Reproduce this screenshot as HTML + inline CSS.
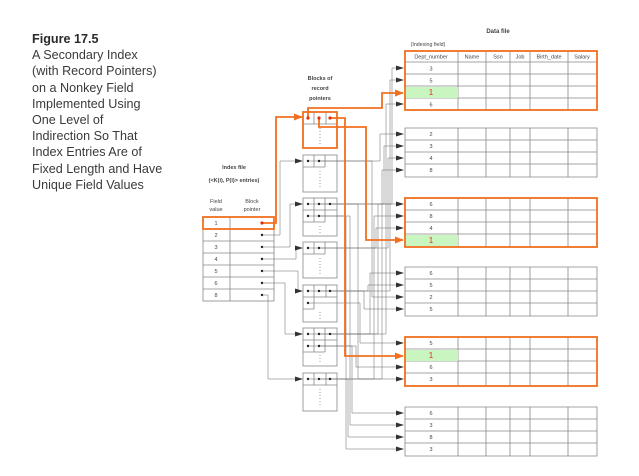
<!DOCTYPE html>
<html><head><meta charset="utf-8"><style>
html,body{margin:0;padding:0;background:#fff;}
body{width:639px;height:476px;overflow:hidden;position:relative;font-family:"Liberation Sans",sans-serif;}
.cap{position:absolute;left:32px;top:31px;font-size:12.6px;line-height:16.2px;color:#3a3a3a;}
.cap b{color:#2a2a2a;}
svg{position:absolute;left:0;top:0;}
</style></head><body>
<div class="cap"><b>Figure 17.5</b><br>A Secondary Index<br>(with Record Pointers)<br>on a Nonkey Field<br>Implemented Using<br>One Level of<br>Indirection So That<br>Index Entries Are of<br>Fixed Length and Have<br>Unique Field Values</div>
<svg width="639" height="476" viewBox="0 0 639 476" font-family="Liberation Sans, sans-serif">
<defs>
<marker id="a" markerWidth="8" markerHeight="5" refX="7" refY="2.5" orient="auto" markerUnits="userSpaceOnUse"><path d="M0,0 L8,2.5 L0,5z" fill="#333"/></marker>
<marker id="o" markerWidth="9" markerHeight="7" refX="8" refY="3.5" orient="auto" markerUnits="userSpaceOnUse"><path d="M0,0 L9,3.5 L0,7z" fill="#f07020"/></marker>
</defs>
<g font-size="5.5" fill="#444" text-anchor="middle">
<text x="498" y="33" font-weight="bold" font-size="6">Data file</text>
<text x="428" y="46" font-size="5.3">(Indexing field)</text>
<text x="320" y="80" font-weight="bold">Blocks of</text>
<text x="320" y="90" font-weight="bold">record</text>
<text x="320" y="100" font-weight="bold">pointers</text>
<text x="234" y="169" font-weight="bold">Index file</text>
<text x="234" y="182" font-weight="bold">(&lt;K(i), P(i)&gt; entries)</text>
<text x="216" y="203">Field</text><text x="216" y="211">value</text>
<text x="252" y="203">Block</text><text x="252" y="211">pointer</text>
</g>
<g stroke="#888" stroke-width="0.8" fill="none">
<rect x="405" y="51" width="192" height="59"/>
<line x1="405" y1="62" x2="597" y2="62"/><line x1="405" y1="74" x2="597" y2="74"/><line x1="405" y1="86" x2="597" y2="86"/><line x1="405" y1="98" x2="597" y2="98"/>
<path d="M458 51V110M486 51V110M510 51V110M530 51V110M568 51V110"/>
</g>
<rect x="406" y="87" width="52" height="11" fill="#c8f5c0"/>
<g font-size="5.5" fill="#444" text-anchor="middle">
<text x="431" y="58.5">Dept_number</text><text x="472" y="58.5">Name</text><text x="498" y="58.5">Ssn</text><text x="520" y="58.5">Job</text><text x="549" y="58.5">Birth_date</text><text x="582" y="58.5">Salary</text>
<text x="431" y="70.5">3</text><text x="431" y="82.5">5</text><text x="431" y="95" font-size="8" fill="#e03010">1</text><text x="431" y="106.5">6</text>
</g>
<g stroke="#888" stroke-width="0.8" fill="none">
<path d="M405 128h192v49h-192zM405 140h192M405 152h192M405 164h192M458 128v49M486 128v49M510 128v49M530 128v49M568 128v49"/>
<path d="M405 198h192v49h-192zM405 210h192M405 222h192M405 234h192M458 198v49M486 198v49M510 198v49M530 198v49M568 198v49"/>
<path d="M405 267h192v49h-192zM405 279h192M405 291h192M405 303h192M458 267v49M486 267v49M510 267v49M530 267v49M568 267v49"/>
<path d="M405 337h192v49h-192zM405 349h192M405 361h192M405 373h192M458 337v49M486 337v49M510 337v49M530 337v49M568 337v49"/>
<path d="M405 407h192v49h-192zM405 419h192M405 431h192M405 443h192M458 407v49M486 407v49M510 407v49M530 407v49M568 407v49"/>
</g>
<rect x="406" y="235" width="52" height="11" fill="#c8f5c0"/>
<rect x="406" y="350" width="52" height="11" fill="#c8f5c0"/>
<g font-size="5.5" fill="#444" text-anchor="middle">
<text x="431" y="136">2</text><text x="431" y="148">3</text><text x="431" y="160">4</text><text x="431" y="172">8</text>
<text x="431" y="206">6</text><text x="431" y="218">8</text><text x="431" y="230">4</text><text x="431" y="243" font-size="8" fill="#e03010">1</text>
<text x="431" y="275">6</text><text x="431" y="287">5</text><text x="431" y="299">2</text><text x="431" y="311">5</text>
<text x="431" y="345">5</text><text x="431" y="358" font-size="8" fill="#e03010">1</text><text x="431" y="369">6</text><text x="431" y="381">3</text>
<text x="431" y="415">6</text><text x="431" y="427">3</text><text x="431" y="439">8</text><text x="431" y="451">3</text>
</g>
<g fill="none" stroke="#f07020" stroke-width="1.8">
<rect x="405" y="51" width="192" height="59"/>
<rect x="405" y="198" width="192" height="49"/>
<rect x="405" y="337" width="192" height="49"/>
</g>
<g stroke="#888" stroke-width="0.8" fill="none">
<rect x="203" y="217" width="71" height="84"/>
<path d="M230 217V301M203 229h71M203 241h71M203 253h71M203 265h71M203 277h71M203 289h71"/>
</g>
<g font-size="5.5" fill="#444" text-anchor="middle">
<text x="216" y="225">1</text><text x="216" y="237">2</text><text x="216" y="249">3</text><text x="216" y="261">4</text><text x="216" y="273">5</text><text x="216" y="285">6</text><text x="216" y="297">8</text>
</g>
<g stroke="#888" stroke-width="0.8" fill="none">
<rect x="303" y="112" width="34" height="36"/><path d="M303 124h34M314 112v12M326 112v12"/>
<rect x="303" y="155" width="34" height="37"/><path d="M303 167h22M314 155v12M325 155v12"/>
<rect x="303" y="198" width="34" height="38"/><path d="M303 210h34M303 222h22M314 198v24M325 198v24"/>
<rect x="303" y="242" width="34" height="36"/><path d="M303 254h22M314 242v12M325 242v12"/>
<rect x="303" y="285" width="34" height="37"/><path d="M303 297h34M303 309h11M314 285v24M326 285v12"/>
<rect x="303" y="328" width="34" height="38"/><path d="M303 340h34M303 352h22M314 328v24M325 328v24"/>
<rect x="303" y="373" width="34" height="38"/><path d="M303 385h34M314 373v12M326 373v12"/>
<path stroke-dasharray="1,2" d="M320 128v16M320 171v16M320 226v8M320 258v16M320 312v8M320 355v8M320 389v16"/>
</g>
<rect x="303" y="112" width="34" height="36" fill="none" stroke="#f07020" stroke-width="1.8"/>
<rect x="203" y="217" width="71" height="12" fill="none" stroke="#f07020" stroke-width="1.8"/>
<g stroke="#666" stroke-width="0.5" fill="none" marker-end="url(#a)">
<path d="M262 235H280V161H302"/>
<path d="M262 247H290V204H302"/>
<path d="M262 259H296V248H302"/>
<path d="M262 271H298V291H302"/>
<path d="M262 283H285V334H302"/>
<path d="M262 295H268V379H302"/>
<path d="M308 161H380V134H403"/>
<path d="M319 161H372V297H403"/>
<path d="M308 204H392V68H403"/>
<path d="M319 204H384V146H403"/>
<path d="M330 204H358V379H403"/>
<path d="M308 216H350V425H403"/>
<path d="M319 216H346V449H403"/>
<path d="M308 248H388V158H403"/>
<path d="M319 248H376V228H403"/>
<path d="M308 291H390V80H403"/>
<path d="M319 291H368V285H403"/>
<path d="M330 291H364V309H403"/>
<path d="M308 303H360V343H403"/>
<path d="M308 334H386V104H403"/>
<path d="M319 334H378V204H403"/>
<path d="M330 334H370V273H403"/>
<path d="M308 346H356V367H403"/>
<path d="M319 346H352V413H403"/>
<path d="M308 379H382V170H403"/>
<path d="M319 379H374V216H403"/>
<path d="M330 379H348V437H403"/>
</g>
<g fill="#222">
<circle cx="262" cy="235" r="1.2"/><circle cx="262" cy="247" r="1.2"/><circle cx="262" cy="259" r="1.2"/><circle cx="262" cy="271" r="1.2"/><circle cx="262" cy="283" r="1.2"/><circle cx="262" cy="295" r="1.2"/>
<circle cx="308" cy="161" r="1.2"/><circle cx="319" cy="161" r="1.2"/>
<circle cx="308" cy="204" r="1.2"/><circle cx="319" cy="204" r="1.2"/><circle cx="330" cy="204" r="1.2"/><circle cx="308" cy="216" r="1.2"/><circle cx="319" cy="216" r="1.2"/>
<circle cx="308" cy="248" r="1.2"/><circle cx="319" cy="248" r="1.2"/>
<circle cx="308" cy="291" r="1.2"/><circle cx="319" cy="291" r="1.2"/><circle cx="330" cy="291" r="1.2"/><circle cx="308" cy="303" r="1.2"/>
<circle cx="308" cy="334" r="1.2"/><circle cx="319" cy="334" r="1.2"/><circle cx="330" cy="334" r="1.2"/><circle cx="308" cy="346" r="1.2"/><circle cx="319" cy="346" r="1.2"/>
<circle cx="308" cy="379" r="1.2"/><circle cx="319" cy="379" r="1.2"/><circle cx="330" cy="379" r="1.2"/>
</g>
<g stroke="#f07020" stroke-width="1.8" fill="none" marker-end="url(#o)">
<path d="M262 223H276V117H302"/>
<path d="M308 118V108H382V93H403"/>
<path d="M319 118V127H366V240H403"/>
<path d="M330 118H345V356H403"/>
</g>
<g fill="#e03010"><circle cx="262" cy="223" r="1.6"/><circle cx="308" cy="118" r="1.6"/><circle cx="319" cy="118" r="1.6"/><circle cx="330" cy="118" r="1.6"/></g>
</svg>
</body></html>
